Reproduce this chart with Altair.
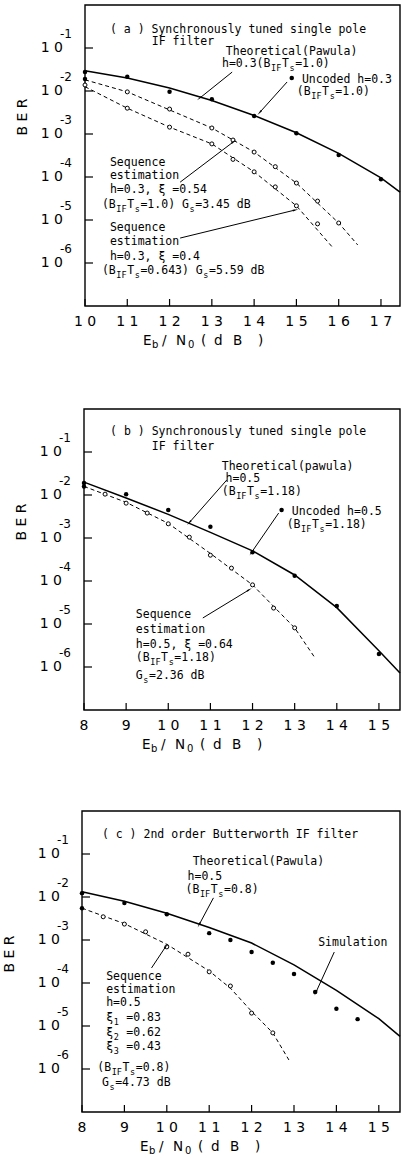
import math
import re
import altair as alt
import pandas as pd

MONO = "DejaVu Sans Mono"
SANS = "DejaVu Sans"
W, H = 316, 301
DEC = H / 7.0
NORM, SUB = 11.5, 8.5
CW = 0.602

# ---------------- panel (a) data ----------------
a_theo_x = [10, 11, 12, 13, 14, 15, 16, 17, 17.45]
a_theo_ber = [2.951e-2, 1.995e-2, 1.175e-2, 6.026e-3, 2.692e-3, 1.072e-3, 3.548e-4, 9.55e-5, 4.467e-5]
a_unc_x = [10, 11, 12, 13, 14, 15, 16, 17]
a_unc_ber = [2.754e-2, 2.138e-2, 9.55e-3, 6.457e-3, 2.63e-3, 1.047e-3, 3.236e-4, 8.913e-5]
a_s1_line_x = [10, 11, 12, 13, 14, 15, 16, 16.45]
a_s1_line_ber = [1.82e-2, 9.55e-3, 3.631e-3, 1.38e-3, 3.802e-4, 7.244e-5, 8.511e-6, 2.63e-6]
a_s1_pts_x = [11, 12, 13, 13.5, 14, 14.5, 15, 15.5, 16]
a_s1_pts_ber = [9.55e-3, 3.802e-3, 1.38e-3, 7.244e-4, 3.802e-4, 1.738e-4, 7.244e-5, 2.754e-5, 8.511e-6]
a_s2_line_x = [10, 11, 12, 13, 14, 15, 15.85]
a_s2_line_ber = [1.259e-2, 3.981e-3, 1.445e-3, 5.888e-4, 1.318e-4, 2.138e-5, 2.344e-6]
a_s2_pts_x = [10, 11, 12, 13, 13.5, 14, 14.5, 15, 15.5]
a_s2_pts_ber = [1.38e-2, 3.981e-3, 1.445e-3, 5.888e-4, 2.57e-4, 1.318e-4, 5.888e-5, 2.138e-5, 8.128e-6]
a_start_x = [10]
a_start_ber = [1.905e-2]
a_key_x = [14.89]
a_key_ber = [1.995e-2]

# ---------------- panel (b) data ----------------
b_theo_x = [8, 9, 10, 11, 12, 13, 14, 15, 15.5]
b_theo_ber = [1.995e-2, 8.511e-3, 3.548e-3, 1.349e-3, 5.012e-4, 1.38e-4, 2.399e-5, 2.399e-6, 7.244e-7]
b_unc_x = [8, 9, 10, 11, 12, 13, 14, 15]
b_unc_ber = [1.905e-2, 1.047e-2, 4.467e-3, 1.82e-3, 4.677e-4, 1.318e-4, 2.63e-5, 1.995e-6]
b_seq_line_x = [8, 9, 10, 11, 12, 13, 13.47]
b_seq_line_ber = [1.585e-2, 6.761e-3, 2.188e-3, 4.365e-4, 8.128e-5, 8.128e-6, 1.698e-6]
b_seq_pts_x = [8.5, 9, 9.5, 10, 10.5, 11, 11.5, 12, 12.5, 13]
b_seq_pts_ber = [1.047e-2, 6.457e-3, 3.802e-3, 2.138e-3, 1.047e-3, 3.981e-4, 1.995e-4, 8.128e-5, 2.344e-5, 8.128e-6]
b_start_x = [8]
b_start_ber = [1.585e-2]
b_key_x = [12.69]
b_key_ber = [4.467e-3]

# ---------------- panel (c) data ----------------
c_theo_x = [8, 9, 10, 11, 12, 13, 14, 15, 15.5]
c_theo_ber = [1.318e-2, 7.943e-3, 4.169e-3, 1.95e-3, 8.511e-4, 2.63e-4, 6.761e-5, 1.479e-5, 5.754e-6]
c_sim_x = [8, 9, 10, 11, 11.5, 12, 12.5, 13, 13.5, 14, 14.5]
c_sim_ber = [1.23e-2, 7.244e-3, 3.981e-3, 1.445e-3, 1.0e-3, 5.248e-4, 2.951e-4, 1.622e-4, 6.166e-5, 2.512e-5, 1.445e-5]
c_seq_line_x = [8, 9, 10, 11, 11.5, 12, 12.5, 12.88]
c_seq_line_ber = [5.495e-3, 2.399e-3, 7.943e-4, 1.905e-4, 7.586e-5, 2.188e-5, 6.918e-6, 1.622e-6]
c_seq_pts_x = [8.5, 9, 9.5, 10, 10.5, 11, 11.5, 12, 12.5]
c_seq_pts_ber = [3.467e-3, 2.344e-3, 1.549e-3, 6.918e-4, 4.677e-4, 1.82e-4, 8.511e-5, 1.995e-5, 6.918e-6]
c_start_x = [8]
c_start_ber = [5.495e-3]

# ---------------- axes ----------------
y_tick_vals = [1e-1, 1e-2, 1e-3, 1e-4, 1e-5, 1e-6]
y_tick_exp = ["-1", "-2", "-3", "-4", "-5", "-6"]
a_xticks = [10, 11, 12, 13, 14, 15, 16, 17]
bc_xticks = [8, 9, 10, 11, 12, 13, 14, 15]

# ---------------- annotations (x in dB, log10 BER, text) ----------------
a_notes = [
    (10.59, -0.58, "( a ) Synchronously tuned single pole"),
    (11.58, -0.86, "IF filter"),
    (13.33, -1.09, "Theoretical(Pawula)"),
    (13.24, -1.37, "h=0.3(B_{IF}T_{s}=1.0)"),
    (15.13, -1.74, "Uncoded h=0.3"),
    (15.01, -2.02, "(B_{IF}T_{s}=1.0)"),
    (10.59, -3.67, "Sequence"),
    (10.59, -3.98, "estimation"),
    (10.59, -4.30, "h=0.3, ξ =0.54"),
    (10.40, -4.65, "(B_{IF}T_{s}=1.0) G_{s}=3.45 dB"),
    (10.59, -5.19, "Sequence"),
    (10.59, -5.51, "estimation"),
    (10.59, -5.86, "h=0.3, ξ =0.4"),
    (10.40, -6.19, "(B_{IF}T_{s}=0.643) G_{s}=5.59 dB"),
]
a_arrows = [
    (13.48, -1.56, 12.72, -2.16),
    (14.78, -1.79, 14.14, -2.49),
    (12.25, -4.12, 13.50, -3.19),
    (12.25, -5.42, 14.96, -4.77),
]
b_notes = [
    (8.62, -0.53, "( b ) Synchronously tuned single pole"),
    (9.61, -0.88, "IF filter"),
    (11.27, -1.34, "Theoretical(pawula)"),
    (11.36, -1.63, "h=0.5"),
    (11.27, -1.93, "(B_{IF}T_{s}=1.18)"),
    (12.93, -2.40, "Uncoded h=0.5"),
    (12.81, -2.70, "(B_{IF}T_{s}=1.18)"),
    (9.23, -4.80, "Sequence"),
    (9.23, -5.14, "estimation"),
    (9.23, -5.48, "h=0.5, ξ =0.64"),
    (9.23, -5.80, "(B_{IF}T_{s}=1.18)"),
    (9.23, -6.20, "G_{s}=2.36 dB"),
]
b_arrows = [
    (11.39, -1.65, 10.51, -2.63),
    (12.62, -2.42, 11.98, -3.33),
    (10.82, -4.86, 11.91, -4.21),
]
c_notes = [
    (8.47, -0.56, "( c ) 2nd order Butterworth IF filter"),
    (10.61, -1.19, "Theoretical(Pawula)"),
    (10.49, -1.53, "h=0.5"),
    (10.44, -1.84, "(B_{IF}T_{s}=0.8)"),
    (13.57, -3.07, "Simulation"),
    (8.57, -3.86, "Sequence"),
    (8.57, -4.16, "estimation"),
    (8.57, -4.47, "h=0.5"),
    (8.57, -4.81, "ξ_{1} =0.83"),
    (8.57, -5.16, "ξ_{2} =0.62"),
    (8.57, -5.49, "ξ_{3} =0.43"),
    (8.36, -5.98, "(B_{IF}T_{s}=0.8)"),
    (8.47, -6.33, "G_{s}=4.73 dB"),
]
c_arrows = [
    (11.10, -2.02, 10.77, -2.63),
    (13.95, -3.28, 13.52, -4.21),
    (9.64, -3.65, 9.97, -3.16),
]

# x-axis title glyphs: (char, offset from plot left in px, subscript?)
xtitle_glyphs = [("E", 58, 0), ("b", 67, 1), ("/", 77, 0), ("N", 91, 0), ("0", 103, 1),
                 ("(", 116, 0), ("d", 129, 0), ("B", 148, 0), (")", 173, 0)]


def text_rows(notes, ppd):
    norm, sub = [], []
    for x0, l, markup in notes:
        cum = 0.0
        for part in re.split(r"(_\{[^}]*\})", markup):
            if not part:
                continue
            if part.startswith("_{"):
                t = part[2:-1]
                size = SUB
                target = sub
            else:
                t = part
                size = NORM
                target = norm
            lead = len(t) - len(t.lstrip(" "))
            cum += lead * CW * size
            t = t.lstrip(" ")
            target.append({"x": x0 + cum / ppd, "y": 10 ** l, "t": t})
            cum += len(t) * CW * size + 0.6
    return pd.DataFrame(norm), pd.DataFrame(sub)


def arrow_rows(arrows, ppd):
    rows = []
    for x1, l1, x2, l2 in arrows:
        dxp = (x2 - x1) * ppd
        dyp = -(l2 - l1) * DEC
        ang = math.degrees(math.atan2(dxp, -dyp)) % 360
        rows.append({"x1": x1, "y1": 10 ** l1, "x2": x2, "y2": 10 ** l2, "ang": ang})
    return pd.DataFrame(rows)


def series(pairs):
    rows = []
    for name, xs, ys in pairs:
        for x, y in zip(xs, ys):
            rows.append({"s": name, "x": x, "y": y})
    return pd.DataFrame(rows)


def spaced(v):
    return " ".join(str(v))


def panel(xdom, xrange, top, xticks, theo, dashed, filled, opened, keys, notes, arrows,
          berx, bery):
    left = xrange[0]
    ppd = (xrange[1] - xrange[0]) / (xdom[1] - xdom[0])
    xs = alt.Scale(domain=xdom, range=xrange, nice=False, zero=False)
    ys = alt.Scale(type="log", domain=[1e-7, 1], range=[top + H, top], nice=False)

    def ex(f="x"):
        return alt.X(f"{f}:Q", scale=xs, axis=None)

    def ey(f="y"):
        return alt.Y(f"{f}:Q", scale=ys, axis=None)

    L = []
    # frame
    L.append(alt.Chart(pd.DataFrame({"x": [xdom[0]], "x2": [xdom[1]], "y": [1e-7], "y2": [1.0]}))
             .mark_rect(fillOpacity=0, stroke="black", strokeWidth=1.4)
             .encode(x=ex(), x2="x2:Q", y=ey(), y2="y2:Q"))
    L.append(alt.Chart(series(theo)).mark_line(color="black", strokeWidth=1.5)
             .encode(x=ex(), y=ey(), detail="s:N"))
    L.append(alt.Chart(series(dashed)).mark_line(color="black", strokeWidth=1, strokeDash=[4, 3])
             .encode(x=ex(), y=ey(), detail="s:N"))
    L.append(alt.Chart(series(filled)).mark_circle(color="black", size=20, opacity=1)
             .encode(x=ex(), y=ey()))
    L.append(alt.Chart(series(opened)).mark_circle(fill="white", stroke="black",
                                                   strokeWidth=1, size=16, opacity=1)
             .encode(x=ex(), y=ey()))
    # inside ticks
    L.append(alt.Chart(pd.DataFrame({"v": y_tick_vals})).mark_rule(color="black", strokeWidth=1.2)
             .encode(y=ey("v"), x=alt.value(left), x2=alt.value(left + 8)))
    L.append(alt.Chart(pd.DataFrame({"v": xticks})).mark_rule(color="black", strokeWidth=1.2)
             .encode(x=ex("v"), y=alt.value(top + H), y2=alt.value(top + H - 7)))
    # tick labels
    ydf = pd.DataFrame({"v": y_tick_vals, "e": y_tick_exp})
    L.append(alt.Chart(ydf).mark_text(text="1 0", align="right", baseline="middle",
                                      font=SANS, fontSize=14, color="black")
             .encode(y=ey("v"), x=alt.value(left - 22)))
    L.append(alt.Chart(ydf).mark_text(align="left", baseline="middle", dy=-14,
                                      font=SANS, fontSize=12, color="black")
             .encode(y=ey("v"), x=alt.value(left - 25), text="e:N"))
    xdf = pd.DataFrame({"v": xticks, "t": [spaced(v) for v in xticks]})
    L.append(alt.Chart(xdf).mark_text(align="center", baseline="middle", font=SANS,
                                      fontSize=14, color="black")
             .encode(x=ex("v"), y=alt.value(top + H + 16), text="t:N"))
    # axis titles
    L.append(alt.Chart(pd.DataFrame({"t": ["B E R"]})).mark_text(
        align="center", baseline="middle", angle=270, font=SANS, fontSize=14, color="black")
        .encode(text="t:N", x=alt.value(left + berx), y=alt.value(top + bery)))
    for ch, off, sub in xtitle_glyphs:
        L.append(alt.Chart(pd.DataFrame({"t": [ch]})).mark_text(
            align="left", baseline="middle", font=SANS, fontSize=10 if sub else 13.5,
            color="black").encode(text="t:N", x=alt.value(left + off),
                                  y=alt.value(top + H + 35 + (4 if sub else 0))))
    # annotations
    ndf, sdf = text_rows(notes, ppd)
    L.append(alt.Chart(ndf).mark_text(align="left", baseline="middle", font=MONO,
                                      fontSize=NORM, color="black")
             .encode(x=ex(), y=ey(), text="t:N"))
    if len(sdf):
        L.append(alt.Chart(sdf).mark_text(align="left", baseline="middle", font=MONO,
                                          fontSize=SUB, dy=4, color="black")
                 .encode(x=ex(), y=ey(), text="t:N"))
    if keys:
        L.append(alt.Chart(series(keys)).mark_circle(color="black", size=20, opacity=1)
                 .encode(x=ex(), y=ey()))
    adf = arrow_rows(arrows, ppd)
    L.append(alt.Chart(adf).mark_rule(color="black", strokeWidth=1)
             .encode(x=ex("x1"), y=ey("y1"), x2="x2:Q", y2="y2:Q"))
    L.append(alt.Chart(adf).mark_point(shape="wedge", filled=True, color="black",
                                       size=45, opacity=1)
             .encode(x=ex("x2"), y=ey("y2"), angle=alt.Angle("ang:Q", scale=None)))
    return L


layers = []
layers += panel([10, 17.45], [1, 316], 0, a_xticks,
                [("theo", a_theo_x, a_theo_ber)],
                [("s1", a_s1_line_x, a_s1_line_ber), ("s2", a_s2_line_x, a_s2_line_ber)],
                [("u", a_unc_x, a_unc_ber), ("st", a_start_x, a_start_ber)],
                [("p1", a_s1_pts_x, a_s1_pts_ber), ("p2", a_s2_pts_x, a_s2_pts_ber)],
                [("k", a_key_x, a_key_ber)], a_notes, a_arrows, -62, 112)
layers += panel([8, 15.5], [0, 316], 404, bc_xticks,
                [("theo", b_theo_x, b_theo_ber)],
                [("s", b_seq_line_x, b_seq_line_ber)],
                [("u", b_unc_x, b_unc_ber), ("st", b_start_x, b_start_ber)],
                [("p", b_seq_pts_x, b_seq_pts_ber)],
                [("k", b_key_x, b_key_ber)], b_notes, b_arrows, -62, 113)
layers += panel([8, 15.5], [-2, 316], 806, bc_xticks,
                [("theo", c_theo_x, c_theo_ber)],
                [("s", c_seq_line_x, c_seq_line_ber)],
                [("u", c_sim_x, c_sim_ber), ("st", c_start_x, c_start_ber)],
                [("p", c_seq_pts_x, c_seq_pts_ber)],
                [], c_notes, c_arrows, -72, 143)

chart = (alt.layer(*layers)
         .resolve_scale(x="independent", y="independent")
         .properties(width=W, height=1107,
                     autosize=alt.AutoSizeParams(type="none"),
                     padding={"left": 84, "top": 5, "right": 1, "bottom": 48},
                     background="white")
         .configure_view(strokeWidth=0))

chart.save("out.html", embed_options={"renderer": "svg", "actions": False})
